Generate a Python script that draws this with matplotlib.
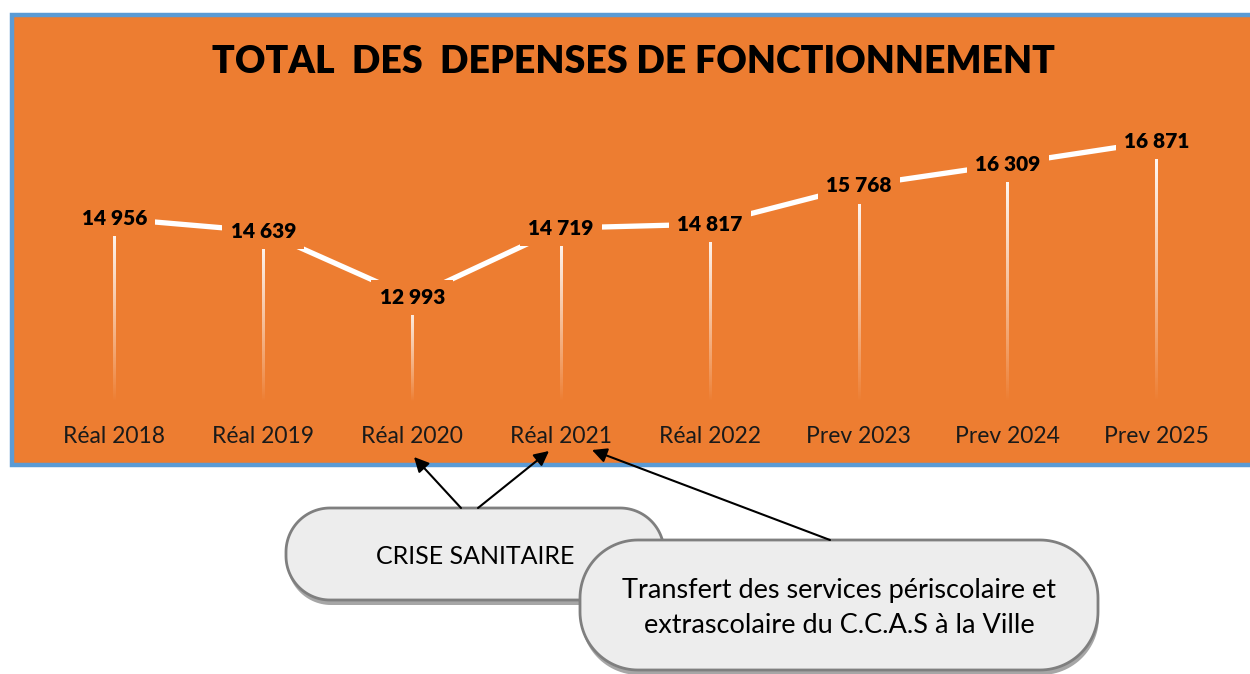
import numpy as np
import matplotlib
matplotlib.use('Agg')
import matplotlib.pyplot as plt
import matplotlib.patches as patches

plt.rcParams['font.family'] = ['Lato', 'DejaVu Sans']

# data
categories = ['Réal 2018', 'Réal 2019', 'Réal 2020', 'Réal 2021', 'Réal 2022',
              'Prev 2023', 'Prev 2024', 'Prev 2025']
depenses = [14956, 14639, 12993, 14719, 14817, 15768, 16309, 16871]
title = 'TOTAL  DES  DEPENSES DE FONCTIONNEMENT'
note_crise = 'CRISE SANITAIRE'
note_transfert = 'Transfert des services périscolaire et\nextrascolaire du C.C.A.S à la Ville'

orange = '#ED7D31'
blue = '#5B9BD5'
box_fill = '#EDEDED'
box_edge = '#7F7F7F'
shadow = '#A6A6A6'

W, H = 1250, 674
fig = plt.figure(figsize=(W / 100, H / 100), dpi=100)
fig.patch.set_facecolor('white')

# background layer in pixel units
bg = fig.add_axes([0, 0, 1, 1], zorder=0)
bg.set_xlim(0, W)
bg.set_ylim(H, 0)
bg.axis('off')
bg.add_patch(patches.Rectangle((12, 15), 1250, 450, facecolor=orange,
                               edgecolor=blue, linewidth=3.2))

# chart area
ax = fig.add_axes([40 / W, 1 - 402 / H, 1191 / W, 302 / H], zorder=1)
ax.set_facecolor('none')
for s in ax.spines.values():
    s.set_visible(False)
xlim = (-0.5, len(categories) - 0.5)
ylim = (10400, 17900)
ax.set_yticks([])
ax.set_xticks(range(len(categories)))
ax.set_xticklabels(categories, fontsize=16.5, color='#1a1a1a')
ax.tick_params(axis='x', length=0, pad=17)

x = np.arange(len(categories))
base = ylim[0]

# drop lines fading from white (top) to orange (bottom)
grad = np.ones((100, 1, 4))
grad[:, 0, 3] = np.linspace(1, 0, 100) ** 0.9
half = 1.2 / 148.9
for xi, v in zip(x, depenses):
    ax.imshow(grad, extent=(xi - half, xi + half, base, v), origin='upper',
              aspect='auto', interpolation='bilinear', zorder=1)

ax.plot(x, depenses, color='white', lw=3.8, solid_capstyle='butt', zorder=2)

for xi, v in zip(x, depenses):
    ax.text(xi, v, f'{v:,}'.replace(',', ' '), ha='center', va='center',
            fontsize=15, fontweight='heavy', color='black', zorder=4,
            bbox=dict(boxstyle='square,pad=0.4', facecolor=orange, edgecolor='none'))

ax.set_xlim(*xlim)
ax.set_ylim(*ylim)

fig.text(634 / W, 1 - 62 / H, title, ha='center', va='center',
         fontsize=27, fontweight='heavy', color='black')

# callouts in pixel units
fg = fig.add_axes([0, 0, 1, 1], zorder=2)
fg.set_xlim(0, W)
fg.set_ylim(H, 0)
fg.axis('off')
fg.patch.set_visible(False)


def rounded(x0, y0, w, h, r):
    pts = []
    corners = [(x0 + w - r, y0 + r, -90, 0), (x0 + w - r, y0 + h - r, 0, 90),
               (x0 + r, y0 + h - r, 90, 180), (x0 + r, y0 + r, 180, 270)]
    for cx, cy, a0, a1 in corners:
        t = np.radians(np.linspace(a0, a1, 30))
        pts += list(zip(cx + r * np.cos(t), cy + r * np.sin(t)))
    return np.array(pts)


def callout(x0, y0, w, h, r, text, fs, ls):
    fg.add_patch(patches.Polygon(rounded(x0 + 1, y0 + 5, w, h, r), closed=True,
                                 facecolor=shadow, edgecolor='none'))
    fg.add_patch(patches.Polygon(rounded(x0, y0, w, h, r), closed=True,
                                 facecolor=box_fill, edgecolor=box_edge, linewidth=2))
    fg.text(x0 + w / 2, y0 + h / 2 + 3, text, ha='center', va='center',
            fontsize=fs, color='black', linespacing=ls)


callout(286, 508, 378, 92, 44, note_crise, 18, 1.6)
callout(580, 540, 518, 130, 58, note_transfert, 19.5, 1.5)

arrow = dict(arrowstyle='-|>', color='black', lw=1.5, mutation_scale=22,
             shrinkA=0, shrinkB=0)
fg.annotate('', xy=(414, 457), xytext=(461, 508), arrowprops=arrow)
fg.annotate('', xy=(549, 451), xytext=(478, 508), arrowprops=arrow)
fg.annotate('', xy=(592, 450), xytext=(830, 540), arrowprops=arrow)

plt.savefig('out.png', dpi=100, facecolor='white')
